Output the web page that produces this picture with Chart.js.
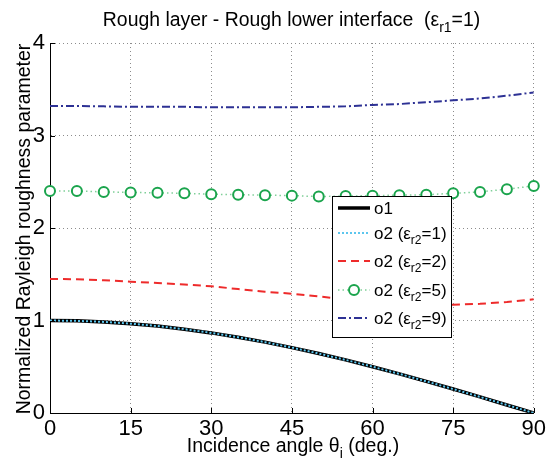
<!DOCTYPE html>
<html>
<head>
<meta charset="utf-8">
<script src="https://cdn.jsdelivr.net/npm/chart.js@4/dist/chart.umd.min.js"></script>
<style>
  html, body { margin: 0; padding: 0; background: #fff; }
  #wrap { width: 549px; height: 459px; }
</style>
</head>
<body>
<div id="wrap"><canvas id="roughChart" width="549" height="459"></canvas></div>
<script>
// incidence angles (deg.)
const angles = [0, 5, 10, 15, 20, 25, 30, 35, 40, 45, 50, 55, 60, 65, 70, 75, 80, 85, 90];

// o1
const o1 = [1.000, 0.996, 0.985, 0.966, 0.940, 0.906, 0.866, 0.819, 0.766, 0.707, 0.643, 0.574, 0.500, 0.423, 0.342, 0.259, 0.174, 0.087, 0.000];
// o2, er2 = 1
const o2Er1 = [1.000, 0.996, 0.985, 0.966, 0.940, 0.906, 0.866, 0.819, 0.766, 0.707, 0.643, 0.574, 0.500, 0.423, 0.342, 0.259, 0.174, 0.087, 0.000];
// o2, er2 = 2
const o2Er2 = [1.45, 1.445, 1.435, 1.42, 1.405, 1.39, 1.37, 1.34, 1.31, 1.29, 1.26, 1.23, 1.20, 1.18, 1.17, 1.17, 1.18, 1.20, 1.23];
// o2, er2 = 5
const o2Er5 = [2.40, 2.40, 2.39, 2.385, 2.38, 2.375, 2.365, 2.36, 2.355, 2.35, 2.34, 2.345, 2.35, 2.355, 2.36, 2.375, 2.39, 2.42, 2.455];
// o2, er2 = 9
const o2Er9 = [3.32, 3.32, 3.315, 3.31, 3.31, 3.31, 3.305, 3.305, 3.305, 3.305, 3.31, 3.315, 3.33, 3.34, 3.36, 3.38, 3.40, 3.43, 3.465];

const xTicks = [0, 15, 30, 45, 60, 75, 90];
const yTicks = [0, 1, 2, 3, 4];

const legendNames = ["o1", "o2 (\u03B5", "o2 (\u03B5", "o2 (\u03B5", "o2 (\u03B5"];
const legendSubs = ["", "r2", "r2", "r2", "r2"];
const legendTails = ["", "=1)", "=2)", "=5)", "=9)"];

const FONT = '"Liberation Sans", Arial, Helvetica, sans-serif';

function pts(ys) {
  return angles.map((a, i) => ({ x: a, y: ys[i] }));
}

// text with a subscript piece in the middle
function drawSubText(ctx, parts, x, y, size, align) {
  const subSize = Math.round(size * 0.72);
  let widths = parts.map(p => {
    ctx.font = (p.sub ? subSize : size) + "px " + FONT;
    return ctx.measureText(p.t).width;
  });
  const total = widths.reduce((a, b) => a + b, 0);
  let cx = align === "center" ? x - total / 2 : x;
  ctx.textAlign = "left";
  parts.forEach((p, i) => {
    ctx.font = (p.sub ? subSize : size) + "px " + FONT;
    ctx.fillText(p.t, cx, y + (p.sub ? size * 0.3 : 0));
    cx += widths[i];
  });
}

const extrasPlugin = {
  id: "extras",
  afterDraw(chart) {
    const ctx = chart.ctx;
    const area = chart.chartArea;
    const xs = chart.scales.x;
    const ys = chart.scales.y;
    ctx.save();

    // inward tick marks
    ctx.strokeStyle = "#000";
    ctx.lineWidth = 1;
    ctx.beginPath();
    xTicks.forEach(v => {
      const px = Math.round(xs.getPixelForValue(v)) + 0.5;
      ctx.moveTo(px, area.bottom);
      ctx.lineTo(px, area.bottom - 5);
    });
    yTicks.forEach(v => {
      const py = Math.round(ys.getPixelForValue(v)) + 0.5;
      ctx.moveTo(area.left, py);
      ctx.lineTo(area.left + 5, py);
    });
    ctx.stroke();

    ctx.fillStyle = "#000";
    ctx.textBaseline = "alphabetic";

    // title
    drawSubText(ctx, [
      { t: "Rough layer - Rough lower interface  (\u03B5" },
      { t: "r1", sub: true },
      { t: "=1)" }
    ], 291.5, 26, 19.4, "center");

    // x axis title
    drawSubText(ctx, [
      { t: "Incidence angle \u03B8" },
      { t: "i", sub: true },
      { t: " (deg.)" }
    ], 293, 452, 19.5, "center");

    // y axis title
    ctx.save();
    ctx.translate(30, 229);
    ctx.rotate(-Math.PI / 2);
    ctx.font = "19.5px " + FONT;
    ctx.textAlign = "center";
    ctx.fillText("Normalized Rayleigh roughness parameter", 0, 0);
    ctx.restore();

    // legend
    const lx = 332, ly = 196, lw = 119, lh = 141;
    ctx.fillStyle = "#fff";
    ctx.fillRect(lx, ly, lw, lh);
    ctx.strokeStyle = "#000";
    ctx.lineWidth = 1;
    ctx.strokeRect(lx + 0.5, ly + 0.5, lw, lh);

    const rows = [208, 233, 261, 290, 318];
    const order = [0, 1, 2, 3, 4];
    order.forEach((di, r) => {
      const ds = chart.data.datasets[di];
      const y = rows[r];
      ctx.save();
      ctx.strokeStyle = ds.borderColor;
      ctx.lineWidth = ds.borderWidth;
      ctx.setLineDash(ds.borderDash || []);
      ctx.beginPath();
      ctx.moveTo(338, y);
      ctx.lineTo(370, y);
      ctx.stroke();
      if (ds.pointRadius > 0) {
        ctx.setLineDash([]);
        ctx.strokeStyle = ds.pointBorderColor;
        ctx.lineWidth = ds.pointBorderWidth;
        ctx.fillStyle = "#fff";
        ctx.beginPath();
        ctx.arc(354, y, ds.pointRadius, 0, Math.PI * 2);
        ctx.fill();
        ctx.stroke();
      }
      ctx.restore();
      ctx.fillStyle = "#000";
      const parts = [{ t: legendNames[r] }];
      if (legendSubs[r]) {
        parts.push({ t: legendSubs[r], sub: true });
        parts.push({ t: legendTails[r] });
      }
      drawSubText(ctx, parts, 374, y + 6, 17, "left");
    });

    ctx.restore();
  }
};

function renderChart() {
  const ctx = document.getElementById("roughChart").getContext("2d");
  window.roughChartInstance = new Chart(ctx, {
    type: "line",
    data: {
      datasets: [
        {
          label: "o1",
          data: pts(o1),
          borderColor: "#000000",
          borderWidth: 3.5,
          pointRadius: 0,
          order: 1
        },
        {
          label: "o2 (er2=1)",
          data: pts(o2Er1),
          borderColor: "#5cc6ee",
          borderWidth: 2,
          borderDash: [2, 2],
          pointRadius: 0,
          order: 0
        },
        {
          label: "o2 (er2=2)",
          data: pts(o2Er2),
          borderColor: "#ee2b2b",
          borderWidth: 2,
          borderDash: [8, 5],
          pointRadius: 0,
          order: 2
        },
        {
          label: "o2 (er2=5)",
          data: pts(o2Er5),
          borderColor: "#7fcf98",
          borderWidth: 1.5,
          borderDash: [1.5, 3],
          pointRadius: 5,
          pointBorderWidth: 2,
          pointBorderColor: "#1aa44c",
          pointBackgroundColor: "#ffffff",
          clip: false,
          order: 3
        },
        {
          label: "o2 (er2=9)",
          data: pts(o2Er9),
          borderColor: "#2d3194",
          borderWidth: 2,
          borderDash: [8, 3, 2, 3],
          pointRadius: 0,
          order: 4
        }
      ]
    },
    options: {
      responsive: false,
      animation: false,
      events: [],
      layout: { padding: { top: 43, right: 13, left: 0, bottom: 0 } },
      plugins: {
        legend: { display: false },
        tooltip: { enabled: false },
        title: { display: false }
      },
      scales: {
        x: {
          type: "linear",
          min: 0,
          max: 90,
          afterFit: s => { s.height = 46; },
          afterBuildTicks: s => { s.ticks = xTicks.map(v => ({ value: v })); },
          ticks: {
            color: "#000",
            font: { family: FONT, size: 22 },
            padding: 3,
            maxRotation: 0
          },
          grid: { color: "#8c8c8c", lineWidth: 1, drawTicks: false },
          border: { display: true, color: "#000", width: 1, dash: [1, 3] }
        },
        y: {
          min: 0,
          max: 4,
          afterFit: s => { s.width = 50; },
          afterBuildTicks: s => { s.ticks = yTicks.map(v => ({ value: v })); },
          ticks: {
            color: "#000",
            font: { family: FONT, size: 22 },
            padding: 5
          },
          grid: { color: "#8c8c8c", lineWidth: 1, drawTicks: false },
          border: { display: true, color: "#000", width: 1, dash: [1, 3] }
        }
      }
    },
    plugins: [extrasPlugin]
  });
}

renderChart();
</script>
</body>
</html>
